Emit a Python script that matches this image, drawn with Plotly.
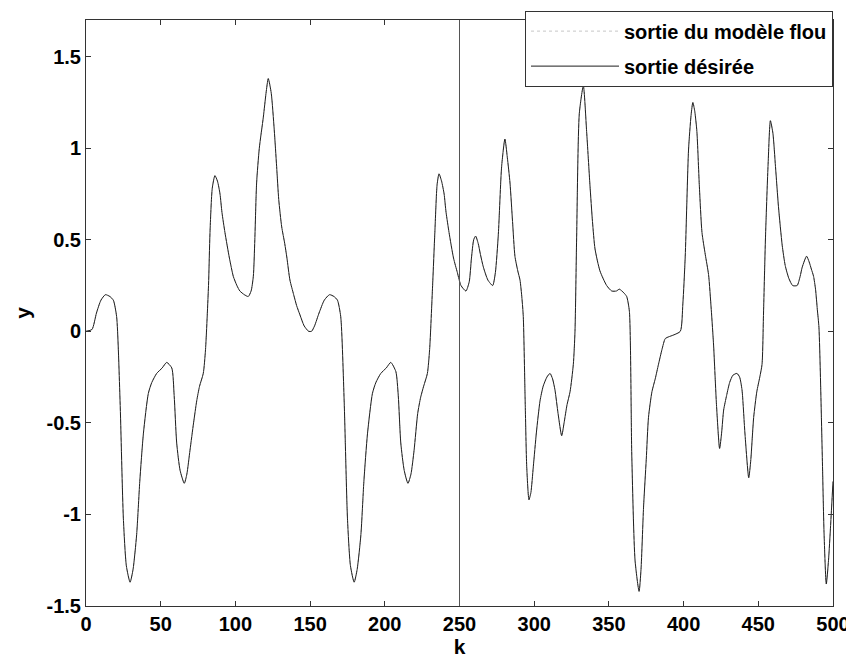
import plotly.graph_objects as go

# ---- data ----
k_values = [
    0, 4, 7, 10, 13, 16, 18.3, 20.5, 22.8, 25, 27, 29.5, 31.5, 33.9, 36, 38.4, 41.7, 44, 47.3, 51,
    54, 57.4, 59, 60.7, 63, 65.8, 67.5, 69.6, 72, 74.1, 76, 78.5, 80, 82, 83, 84.5, 86.3, 88, 89.7, 91,
    93, 96, 98.6, 101, 103, 106, 108.6, 110.5, 112, 113, 114.2, 116, 118.7, 120.5, 122, 124, 126, 127.6, 129, 131,
    133, 134.5, 136.5, 139, 141, 143.2, 146, 149, 151, 153, 156, 159.5, 163, 166, 168.3, 170.5, 172.8, 175, 177, 179.5,
    181.5, 184, 186, 188.4, 191.7, 194, 197.3, 201, 204, 207.4, 209, 210.7, 213, 215.5, 217.5, 219.6, 222, 224, 226, 228.5,
    230, 232, 233.5, 235, 236.3, 238, 239.7, 241, 243, 246, 248.6, 251, 254.3, 256.5, 258, 259.5, 260.8, 262.5, 264, 266,
    269, 272.2, 274, 276, 278.2, 280.4, 282, 283.8, 285.5, 287.1, 289, 290.5, 291.8, 292.7, 294, 295, 296.5, 297.8, 299.4, 301.5,
    303.9, 306, 308.5, 310.6, 312.3, 313.9, 316, 318.4, 320, 322, 324, 326.2, 327.3, 328.4, 330.2, 332.9, 335.1, 337.3, 339, 340.7,
    344, 348.5, 351.9, 355, 357, 360, 361.9, 363.7, 365.3, 367.5, 370.2, 371.5, 373.2, 375, 376.5, 378.8, 381, 383.2, 385.5, 387.7,
    390, 393.3, 397.8, 399.5, 401.1, 403.3, 405, 406.2, 407.5, 408.9, 410.5, 412.3, 414.5, 416.7, 418.5, 420.1, 422, 424.1, 425.5, 426.8,
    428.8, 430.8, 433, 435.7, 437.5, 439.1, 441, 443.6, 445, 446.9, 449, 451, 452.5, 453.5, 454.8, 456.5, 458.1, 459.8, 461.5, 463.5,
    466, 468, 470.4, 473, 476, 478, 479.4, 482.3, 484, 485.5, 487, 488.3, 489.5, 490.6, 492.8, 494, 495.5, 497, 498.4, 500,
]
y_desired = [
    0.0, 0.01, 0.10, 0.17, 0.20, 0.19, 0.17, 0.08, -0.38, -1.02, -1.28, -1.37, -1.30, -1.11, -0.82, -0.56, -0.34, -0.28, -0.23, -0.20,
    -0.17, -0.20, -0.35, -0.61, -0.76, -0.83, -0.78, -0.65, -0.50, -0.38, -0.30, -0.23, -0.10, 0.25, 0.54, 0.78, 0.85, 0.82, 0.75, 0.65,
    0.54, 0.40, 0.30, 0.25, 0.22, 0.20, 0.19, 0.22, 0.30, 0.50, 0.81, 1.00, 1.17, 1.30, 1.38, 1.30, 1.10, 0.90, 0.72, 0.57,
    0.48, 0.40, 0.28, 0.20, 0.14, 0.09, 0.03, 0.00, 0.00, 0.03, 0.10, 0.17, 0.20, 0.19, 0.17, 0.08, -0.38, -1.02, -1.28, -1.37,
    -1.30, -1.11, -0.82, -0.56, -0.34, -0.28, -0.23, -0.20, -0.17, -0.22, -0.35, -0.61, -0.76, -0.83, -0.78, -0.65, -0.45, -0.36, -0.30, -0.23,
    -0.10, 0.25, 0.54, 0.80, 0.86, 0.82, 0.75, 0.65, 0.54, 0.40, 0.32, 0.25, 0.22, 0.27, 0.40, 0.50, 0.52, 0.48, 0.42, 0.35,
    0.28, 0.25, 0.32, 0.53, 0.90, 1.05, 0.95, 0.81, 0.60, 0.41, 0.33, 0.28, 0.18, 0.08, -0.40, -0.74, -0.92, -0.88, -0.74, -0.55,
    -0.38, -0.30, -0.25, -0.23, -0.26, -0.32, -0.45, -0.57, -0.50, -0.40, -0.33, -0.18, 0.00, 0.51, 1.19, 1.34, 1.09, 0.80, 0.60, 0.45,
    0.33, 0.25, 0.22, 0.22, 0.23, 0.21, 0.19, 0.11, -0.67, -1.25, -1.42, -1.30, -0.96, -0.70, -0.47, -0.33, -0.26, -0.18, -0.10, -0.04,
    -0.03, -0.02, 0.00, 0.15, 0.41, 0.99, 1.18, 1.25, 1.20, 1.09, 0.80, 0.54, 0.42, 0.31, 0.12, -0.08, -0.40, -0.64, -0.55, -0.43,
    -0.35, -0.28, -0.24, -0.23, -0.25, -0.32, -0.55, -0.80, -0.70, -0.47, -0.33, -0.25, -0.18, 0.10, 0.51, 0.90, 1.15, 1.08, 0.90, 0.68,
    0.47, 0.36, 0.29, 0.25, 0.25, 0.30, 0.35, 0.41, 0.38, 0.34, 0.30, 0.23, 0.12, 0.02, -0.67, -1.10, -1.38, -1.25, -1.06, -0.82,
]
# the fuzzy model output lies on top of the desired output in the picture
y_model = list(y_desired)

series_names = ["sortie du modèle flou", "sortie désirée"]
x_tick_vals = [0, 50, 100, 150, 200, 250, 300, 350, 400, 450, 500]
x_tick_text = ["0", "50", "100", "150", "200", "250", "300", "350", "400", "450", "500"]
y_tick_vals = [-1.5, -1, -0.5, 0, 0.5, 1, 1.5]
y_tick_text = ["-1.5", "-1", "-0.5", "0", "0.5", "1", "1.5"]
split_k = 250

FONT = "Liberation Sans, Arial, sans-serif"

fig = go.Figure()
fig.add_trace(go.Scatter(
    x=k_values, y=y_model, mode="lines", name=series_names[0], legendgroup="a",
    line=dict(color="rgba(150,150,150,0.55)", width=1, dash="dot", shape="spline", smoothing=0.6),
))
fig.add_trace(go.Scatter(
    x=k_values, y=y_desired, mode="lines", name=series_names[1], legendgroup="b",
    line=dict(color="#1e1e1e", width=1, shape="spline", smoothing=0.6),
))

fig.add_vline(x=split_k, line=dict(color="#555555", width=1))

axis_common = dict(
    showline=True, linecolor="#333333", linewidth=1, mirror="ticks",
    ticks="inside", ticklen=5, tickcolor="#333333", tickwidth=1,
    showgrid=False, zeroline=False, automargin=False,
    tickfont=dict(family=FONT, size=20, color="black", weight="bold"),
)

fig.update_layout(
    width=854, height=660,
    margin=dict(l=78, r=29, t=12, b=62, autoexpand=False),
    paper_bgcolor="white", plot_bgcolor="white",
    font=dict(family=FONT, color="black"),
    xaxis=dict(range=[0, 500], tickvals=x_tick_vals, ticktext=x_tick_text,
               title=dict(text="k", font=dict(family=FONT, size=21, weight="bold"), standoff=2), **axis_common),
    yaxis=dict(range=[-1.5, 1.7], tickvals=y_tick_vals, ticktext=y_tick_text,
               title=dict(text="y", font=dict(family=FONT, size=21, weight="bold"), standoff=10), **axis_common),
    legend=dict(
        x=1.0, y=1.016, xanchor="right", yanchor="top",
        bgcolor="white", bordercolor="#333333", borderwidth=1,
        font=dict(family=FONT, size=20, color="black", weight="bold"),
        itemwidth=88, tracegroupgap=6,
    ),
    showlegend=True,
)

fig.write_html("out.html")
